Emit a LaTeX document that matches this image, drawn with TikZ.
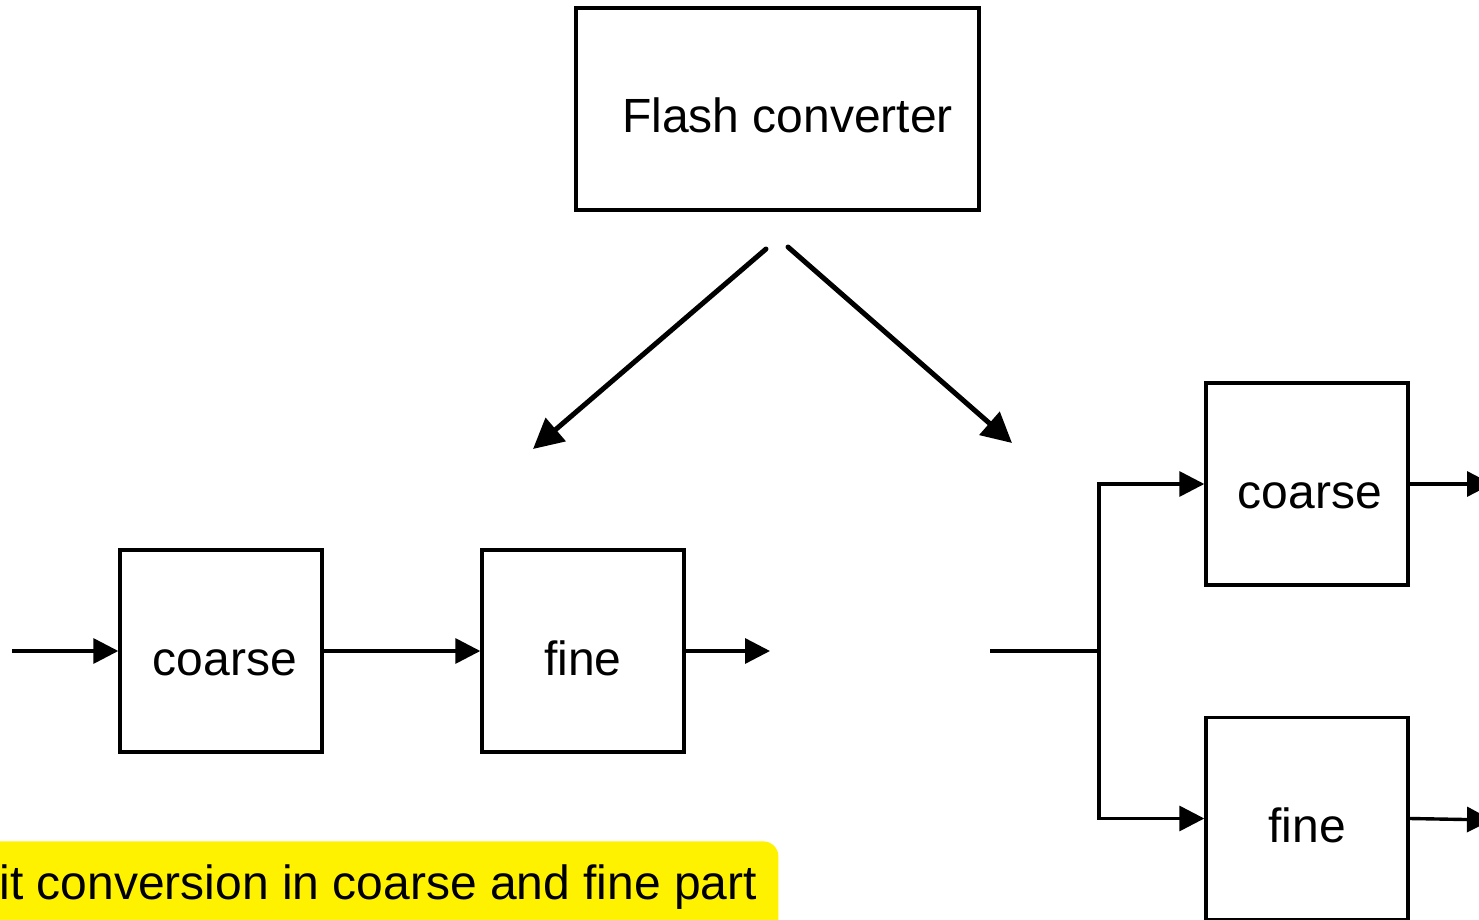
\documentclass[tikz,border=0pt]{standalone}
\usepackage{fontspec}
\setmainfont{Liberation Sans}
\usetikzlibrary{arrows.meta}
\begin{document}
\begin{tikzpicture}[x=0.5pt,y=-0.5pt,
  txt/.style={font=\fontsize{24pt}{28pt}\selectfont},
  box/.style={draw, line width=1.7pt, minimum width=101pt, minimum height=101pt, inner sep=0pt, txt, text height=24pt, text depth=0pt},
  conn/.style={line width=1.7pt, -{Triangle[length=12.5pt,width=12.5pt]}},
  plain/.style={line width=1.7pt},
  diag/.style={line width=2.5pt, line cap=round, -{Triangle[length=15pt,width=15pt]}},
]
\useasboundingbox (0,0) rectangle (1479,920);
% note label
\node (note) [fill=yellow, rounded corners=7.5pt, minimum width=399pt, minimum height=55pt, anchor=north west, inner sep=0pt] at (-20,841) {};
\node (notetext) [txt, anchor=base west, inner sep=0pt] at (-1,899) {it conversion in coarse and fine part};
% flash converter
\node (flash) [box, minimum width=201.5pt] at (777.5,109) {\hspace*{10pt}Flash converter};
\coordinate (dl0) at (766,249);
\coordinate (dl1) at (533,449);
\coordinate (dr0) at (788,247);
\coordinate (dr1) at (1012,443);
\draw[diag] (dl0) -- (dl1);
\draw[diag] (dr0) -- (dr1);
% left chain
\node (lc) [box] at (221,651) {\hspace*{4pt}coarse};
\node (lf) [box] at (583,651) {fine};
\coordinate (lin) at (12,651);
\coordinate (lout) at (770,651);
\draw[conn] (lin) -- (lc.west);
\draw[conn] (lc.east) -- (lf.west);
\draw[conn] (lf.east) -- (lout);
% right chain
\node (rc) [box] at (1307,484) {\hspace*{3pt}coarse};
\node (rf) [box] at (1307,818.5) {fine};
\coordinate (rin) at (990,651);
\coordinate (split) at (1099,651);
\coordinate (rcout) at (1492,484);
\coordinate (rfout) at (1492,820);
\draw[plain] (rin) -- (split);
\draw[conn] (split) |- (rc.west);
\draw[conn] (split) |- (rf.west);
\draw[conn] (rc.east) -- (rcout);
\draw[conn] (rf.east) -- (rfout);
\end{tikzpicture}
\end{document}
